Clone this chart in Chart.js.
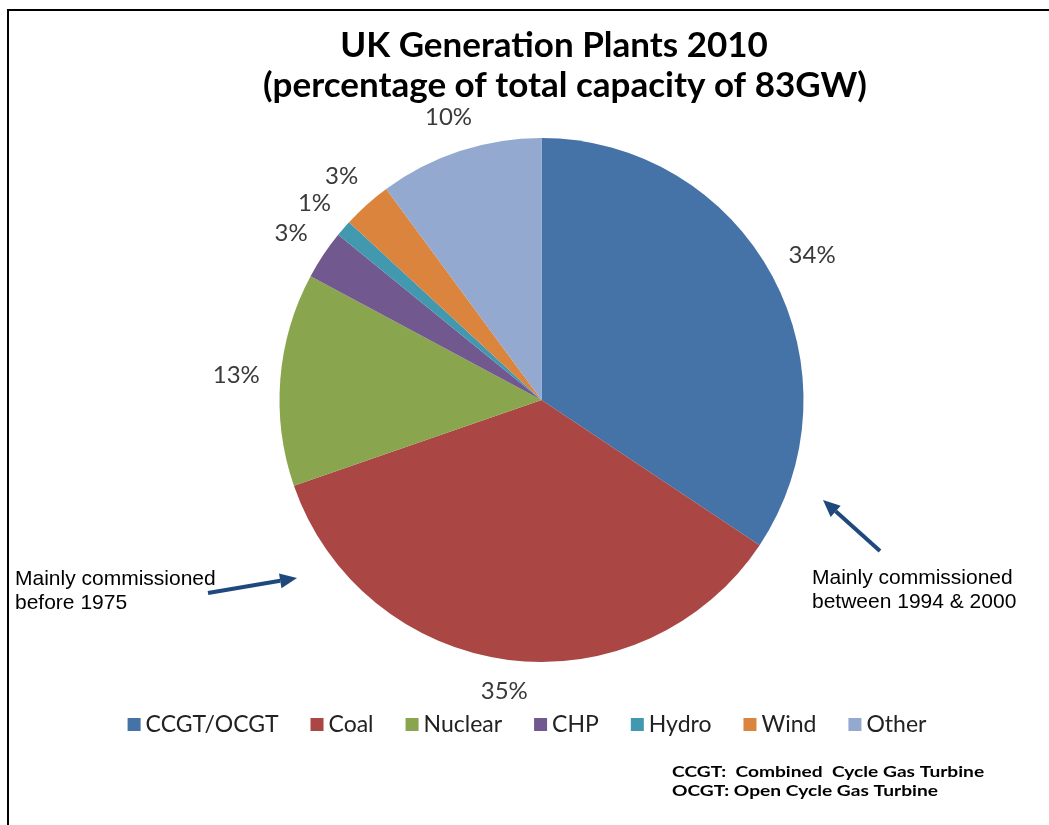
<!DOCTYPE html>
<html>
<head>
<meta charset="utf-8">
<title>UK Generation Plants 2010</title>
<script src="https://cdn.jsdelivr.net/npm/chart.js@4.4.1/dist/chart.umd.min.js"></script>
<style>
  html, body { margin: 0; padding: 0; background: #fff; }
  canvas { display: block; }
</style>
</head>
<body>
<canvas id="chartPlants" width="1049" height="825"></canvas>
<script>
// ---- data ----
const categories = ["CCGT/OCGT", "Coal", "Nuclear", "CHP", "Hydro", "Wind", "Other"];
const shares = [34, 35, 13, 3, 1, 3, 10];
const colours = ["#4572A7", "#AA4643", "#89A54E", "#71588F", "#4198AF", "#DB843D", "#93A9CF"];

const titleLines = ["UK Generation Plants 2010", "(percentage of total capacity of 83GW)"];
const footNotes = ["CCGT:  Combined  Cycle Gas Turbine", "OCGT: Open Cycle Gas Turbine"];
const noteOld = ["Mainly commissioned", "before 1975"];
const noteNew = ["Mainly commissioned", "between 1994 & 2000"];

const ARROW = "#1F497D";

function drawArrow(ctx, x1, y1, x2, y2) {
  const a = Math.atan2(y2 - y1, x2 - x1);
  const len = 17, half = 7.5;
  const bx = x2 - Math.cos(a) * len, by = y2 - Math.sin(a) * len;
  ctx.save();
  ctx.strokeStyle = ARROW;
  ctx.fillStyle = ARROW;
  ctx.lineWidth = 4;
  ctx.beginPath();
  ctx.moveTo(x1, y1);
  ctx.lineTo(bx, by);
  ctx.stroke();
  ctx.beginPath();
  ctx.moveTo(x2, y2);
  ctx.lineTo(bx + Math.sin(a) * half, by - Math.cos(a) * half);
  ctx.lineTo(bx - Math.sin(a) * half, by + Math.cos(a) * half);
  ctx.closePath();
  ctx.fill();
  ctx.restore();
}

// frame + title behind the pie
const framePlugin = {
  id: "frame",
  beforeDraw(chart) {
    const ctx = chart.ctx;
    ctx.save();
    ctx.fillStyle = "#fff";
    ctx.fillRect(0, 0, chart.width, chart.height);
    ctx.strokeStyle = "#000";
    ctx.lineWidth = 2;
    ctx.beginPath();
    ctx.moveTo(8, chart.height);
    ctx.lineTo(8, 10);
    ctx.lineTo(chart.width, 10);
    ctx.stroke();

    ctx.fillStyle = "#000";
    ctx.font = "bold 35px Lato";
    ctx.textAlign = "center";
    ctx.textBaseline = "alphabetic";
    ctx.fillText(titleLines[0], 554, 57);
    ctx.fillText(titleLines[1], 565, 97);
    ctx.restore();
  }
};

// percentage labels just outside each slice
const sliceLabels = {
  id: "sliceLabels",
  afterDatasetsDraw(chart) {
    const ctx = chart.ctx;
    const meta = chart.getDatasetMeta(0);
    ctx.save();
    ctx.font = "24px Lato";
    ctx.fillStyle = "#3a3a3a";
    ctx.textAlign = "center";
    ctx.textBaseline = "middle";
    meta.data.forEach((arc, i) => {
      const p = arc.getProps(["x", "y", "startAngle", "endAngle", "outerRadius"], true);
      const mid = (p.startAngle + p.endAngle) / 2;
      const text = shares[i] + "%";
      const w = ctx.measureText(text).width;
      const cx = Math.cos(mid), cy = Math.sin(mid);
      const d = p.outerRadius + 20 + Math.abs(cx) * w / 2 + Math.abs(cy) * 9;
      ctx.fillText(text, p.x + cx * d, p.y + cy * d);
    });
    ctx.restore();
  }
};

// legend row, notes and arrows
const extrasPlugin = {
  id: "extras",
  afterDraw(chart) {
    const ctx = chart.ctx;
    ctx.save();

    // legend
    ctx.font = "23px Lato";
    const box = 13, gap = 5, spacing = 32;
    const widths = categories.map(c => ctx.measureText(c).width);
    const total = widths.reduce((s, w) => s + box + gap + w, 0) + spacing * (categories.length - 1);
    let x = 527 - total / 2;
    ctx.textBaseline = "middle";
    ctx.textAlign = "left";
    categories.forEach((c, i) => {
      ctx.fillStyle = colours[i];
      ctx.fillRect(x, 718, box, box);
      ctx.fillStyle = "#222";
      ctx.fillText(c, x + box + gap, 725);
      x += box + gap + widths[i] + spacing;
    });

    // footnote, slightly stretched sideways
    ctx.textBaseline = "alphabetic";
    ctx.fillStyle = "#000";
    ctx.font = "bold 16px Lato";
    const sx = 266 / ctx.measureText(footNotes[1]).width;
    ctx.save();
    ctx.translate(672, 0);
    ctx.scale(sx, 1);
    ctx.fillText(footNotes[0], 0, 777);
    ctx.fillText(footNotes[1], 0, 796);
    ctx.restore();

    // annotations
    ctx.font = "21px 'Liberation Sans', Arial, sans-serif";
    ctx.fillText(noteOld[0], 15, 585);
    ctx.fillText(noteOld[1], 15, 609);
    ctx.fillText(noteNew[0], 812, 584);
    ctx.fillText(noteNew[1], 812, 608);
    ctx.restore();

    drawArrow(ctx, 208, 593, 297, 578);
    drawArrow(ctx, 880, 551, 823, 500);
  }
};

new Chart(document.getElementById("chartPlants"), {
  type: "pie",
  data: {
    labels: categories,
    datasets: [{ data: shares, backgroundColor: colours, borderWidth: 0 }]
  },
  options: {
    responsive: false,
    animation: false,
    layout: { padding: { top: 138, bottom: 163, left: 34, right: 0 } },
    plugins: { legend: { display: false }, tooltip: { enabled: false } }
  },
  plugins: [framePlugin, sliceLabels, extrasPlugin]
});
</script>
</body>
</html>
